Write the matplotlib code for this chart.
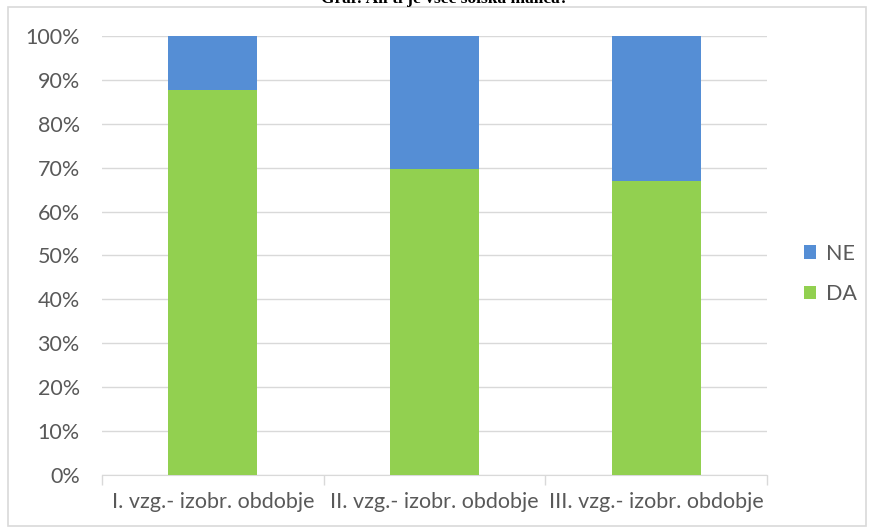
import matplotlib.pyplot as plt
import matplotlib.ticker as ticker
from matplotlib.patches import Rectangle
import numpy as np

kategorije = ["I. vzg.- izobr. obdobje", "II. vzg.- izobr. obdobje", "III. vzg.- izobr. obdobje"]
da = [87.6, 69.8, 67.0]
ne = [12.4, 30.2, 33.0]

modra = "#558ED5"
zelena = "#92D050"
siva_besedila = "#595959"

plt.rcParams["font.family"] = ["Lato", "DejaVu Sans"]

fig = plt.figure(figsize=(8.71, 5.31), dpi=100)
ax = fig.add_axes([0.1171, 0.1055, 0.7635, 0.8267])

x = np.arange(len(kategorije))
b_da = ax.bar(x, da, width=0.4, color=zelena, label="DA", zorder=3)
b_ne = ax.bar(x, ne, width=0.4, bottom=da, color=modra, label="NE", zorder=3)

ax.set_xlim(-0.5, len(kategorije) - 0.5)
ax.set_ylim(0, 100)
ax.set_yticks(np.arange(0, 101, 10))
ax.yaxis.set_major_formatter(ticker.FuncFormatter(lambda v, _: f"{int(v)}%"))
ax.grid(axis="y", color="#D9D9D9", linewidth=1, zorder=0)

# kategorije pod stolpci, kljukice na mejah med kategorijami
ax.set_xticks(x)
ax.set_xticklabels(kategorije)
ax.set_xticks(np.arange(-0.5, len(kategorije)), minor=True)
ax.tick_params(axis="x", which="major", length=0, pad=12, labelsize=15.5, colors=siva_besedila)
ax.tick_params(axis="x", which="minor", length=7, color="#D9D9D9", width=1)
ax.tick_params(axis="y", length=0, pad=16, labelsize=15.5, colors=siva_besedila)

for s in ["top", "right", "left"]:
    ax.spines[s].set_visible(False)
ax.spines["bottom"].set_color("#D9D9D9")

leg = ax.legend(handles=[b_ne, b_da], labels=["NE", "DA"], loc="center left",
                bbox_to_anchor=(1.055, 0.458), frameon=False, fontsize=15.5,
                borderaxespad=0, borderpad=0,
                handlelength=0.6, handleheight=0.6, handletextpad=0.45,
                labelspacing=0.95)
for t in leg.get_texts():
    t.set_color(siva_besedila)

# okvir grafa
fig.patches.append(Rectangle((8 / 871, 5 / 531), 858 / 871, 519 / 531,
                             transform=fig.transFigure, fill=False,
                             edgecolor="#D9D9D9", linewidth=1.2))

fig.text(445 / 871, 0.994, "Graf: Ali ti je všeč šolska malica?",
         ha="center", va="baseline", fontsize=12.5, fontweight="bold",
         family="Liberation Serif")

fig.savefig("out.png", dpi=100)
